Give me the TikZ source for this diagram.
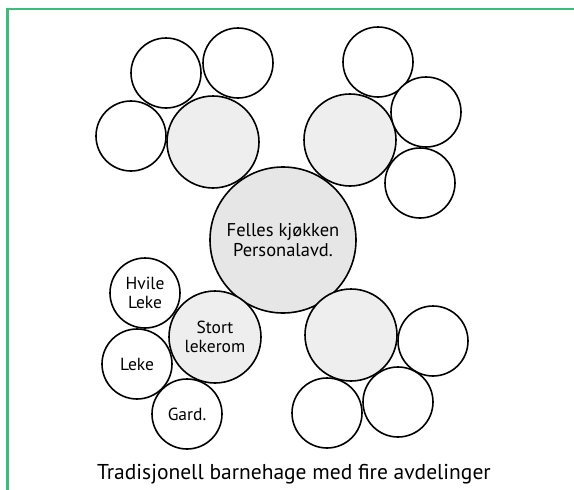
\documentclass[tikz,border=0pt]{standalone}
\usepackage{fontspec}
\setmainfont{PT Sans}
\definecolor{framegreen}{RGB}{60,190,120}
\definecolor{roomgrey}{RGB}{230,230,230}
\definecolor{basegrey}{RGB}{238,238,238}

\begin{document}
\begin{tikzpicture}[x=1pt,y=-1pt,
	room/.style={circle,draw,line width=1.6pt,fill=white,inner sep=0pt,minimum size=70pt,font=\fontsize{17.5}{19}\selectfont,align=center},
	base/.style={room,fill=basegrey,minimum size=92pt},
	hall/.style={room,fill=roomgrey,minimum size=146pt,font=\fontsize{18.5}{20}\selectfont}]
	\useasboundingbox (0,0) rectangle (574,490);
	\draw[framegreen,line width=2.5pt] (7.5,490) -- (7.5,9) -- (574,9);
	% centre
	\node[hall] (i) at (283,240) {Felles kjøkken\\Personalavd.};
	% upper left
	\node[base] (d) at (213,142) {};
	\node[room] (a) at (166,73) {};
	\node[room] (b) at (238,63) {};
	\node[room] (c) at (131,136) {};
	% upper right
	\node[base] (h) at (350,140) {};
	\node[room] (e) at (378,62) {};
	\node[room] (f) at (426,112) {};
	\node[room] (g) at (420,183) {};
	% lower left
	\node[base] (s) at (215,337) {Stort\\lekerom};
	\node[room] (hv) at (145,293) {Hvile\\Leke};
	\node[room] (le) at (137,364) {Leke};
	\node[room] (ga) at (187,414) {Gard.};
	% lower right
	\node[base] (j) at (351,335) {};
	\node[room] (k) at (433,341) {};
	\node[room] (l) at (398,402) {};
	\node[room] (m) at (327,413) {};
	\node[font=\fontsize{21.5}{23}\selectfont] (cap) at (294,474) {Tradisjonell barnehage med fire avdelinger};
\end{tikzpicture}
\end{document}
